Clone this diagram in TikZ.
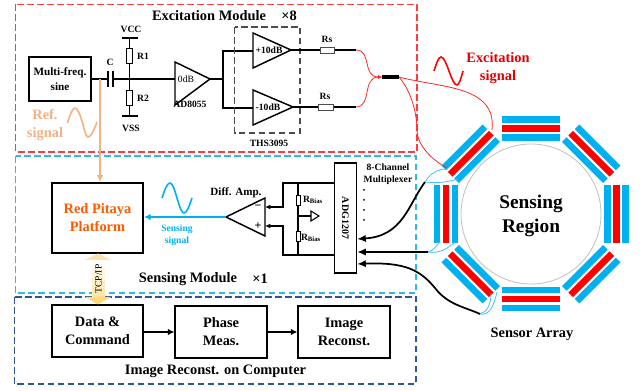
\documentclass[tikz,border=0pt]{standalone}
\usepackage{fontspec}
\setmainfont{Liberation Serif}
\usetikzlibrary{arrows.meta}
\definecolor{exred}{HTML}{FF3B3B}
\definecolor{senseblue}{HTML}{33B7E8}
\definecolor{imgblue}{HTML}{2F5597}
\definecolor{stripblue}{HTML}{00B0F0}
\definecolor{refline}{HTML}{F4B183}
\definecolor{linktop}{HTML}{FBE2B0}
\definecolor{linkbot}{HTML}{FFD97A}
\tikzstyle{modframe} = [draw, line width=0.9pt, dash pattern=on 5pt off 2.5pt]
\tikzstyle{block} = [draw, line width=1.3pt, align=center, inner sep=0pt, font=\bfseries\fontsize{10.8}{13.5}\selectfont]
\tikzstyle{title} = [font=\bfseries\fontsize{10.8}{13.5}\selectfont, align=center]
\tikzstyle{small} = [font=\bfseries\fontsize{7.2}{9}\selectfont, align=center, inner sep=0pt]
\tikzstyle{resistor} = [draw, line width=0.6pt, inner sep=0pt, fill=white]
\tikzstyle{wire} = [draw, line width=1.2pt]
\tikzstyle{thinwire} = [draw, line width=0.8pt]
\tikzstyle{amp} = [draw, line width=1.1pt, fill=white]
\tikzstyle{feed} = [draw=red!85, line width=0.6pt]
\tikzstyle{sense} = [draw=stripblue!75, line width=0.6pt]
\tikzstyle{lead} = [draw, line width=1.3pt, -{Latex[length=6.5pt,width=5.5pt]}]
\begin{document}
\begin{tikzpicture}[x=0.75pt,y=-0.75pt]
\useasboundingbox (0,0) rectangle (644,391);

%Module frames
\draw [modframe, exred] (15.5,4.5) rectangle (417,152);
\draw [modframe, senseblue] (15.5,156) rectangle (416,293);
\draw [modframe, imgblue] (14.5,297) rectangle (416,384);
\node [title] at (209,16) {Excitation Module};
\node [title] at (289,16) {×8};
\node [title] at (188,279) {Sensing Module};
\node [title] at (260,279) {×1};
\node [title] at (215.5,371) {Image Reconst. on Computer};

%Source and bias
\node [block, minimum width=46.5pt, minimum height=33pt, font=\bfseries\fontsize{8.4}{11.5}\selectfont] (sine) at (60,79) {Multi-freq.\\sine};
\coordinate (capa) at (108,79);
\coordinate (capb) at (113,79);
\coordinate (join) at (129,79);
\coordinate (refjoin) at (100,79);
\node [resistor, minimum width=4.5pt, minimum height=11pt] (ra) at (129.5,56) {};
\node [resistor, minimum width=4.5pt, minimum height=11pt] (rb) at (129.5,98) {};
\coordinate (vcc) at (129.5,38);
\coordinate (vss) at (129.5,116);
\draw [wire] (sine.east) -- (capa);
\draw [wire] (capb) -- (175,79);
\draw [wire] (capa |- 0,71) -- (capa |- 0,87);
\draw [wire] (capb |- 0,71) -- (capb |- 0,87);
\draw [wire] (vcc) -- (ra.north);
\draw [wire] (ra.south) -- (rb.north);
\draw [wire] (rb.south) -- (vss);
\draw [wire] (122,38) -- (138,38);
\draw [wire] (122,116) -- (138,116);
\node [small] at (110,62) {C};
\node [small] at (143,56) {R1};
\node [small] at (143,98) {R2};
\node [small] at (131,29) {VCC};
\node [small] at (131,128) {VSS};

%Buffer and driver amplifiers
\coordinate (buftip) at (210,79);
\coordinate (split) at (223,79);
\coordinate (uptip) at (291,50);
\coordinate (lowtip) at (293,107);
\draw [wire] (buftip) -- (split);
\draw [wire] (253,51) -- (223,51) -- (223,108) -- (253,108);
\draw [amp] (175,62) -- (buftip) -- (175,105) -- cycle;
\draw [amp] (253,33) -- (uptip) -- (253,68) -- cycle;
\draw [amp] (253,90) -- (lowtip) -- (253,125) -- cycle;
\draw [draw=black!70, line width=0.9pt, dash pattern=on 5pt off 2.5pt] (234.5,27) rectangle (300,133);
\node [font=\fontsize{7.2}{9}\selectfont, inner sep=0pt] at (186,79.5) {0dB};
\node [small] at (190,104) {AD8055};
\node [small] at (269,50) {+10dB};
\node [small] at (268,107) {-10dB};
\node [small] at (269,143) {THS3095};

%Series resistors and excitation feed
\node [resistor, draw=black!70, minimum width=11pt, minimum height=4.5pt] (rsa) at (327.5,50) {};
\node [resistor, draw=black!70, minimum width=11pt, minimum height=4.5pt] (rsb) at (326,107) {};
\coordinate (outa) at (356,50);
\coordinate (outb) at (356,107);
\coordinate (spl) at (382,77);
\coordinate (spr) at (399,77);
\coordinate (padtop) at (492,130);
\coordinate (padleft) at (447,168);
\draw [wire] (uptip) -- (rsa);
\draw [wire] (rsa) -- (outa);
\draw [wire] (lowtip) -- (rsb);
\draw [wire] (rsb) -- (outb);
\node [small] at (327,39) {Rs};
\node [small] at (325,96) {Rs};

%Sensor array
\foreach \ang in {0,45,...,315}
{
\begin{scope}[shift={(531,214)},rotate=\ang]
\fill [stripblue] (-29,73) rectangle (29,79.5);
\fill [red] (-29,82) rectangle (29,88.5);
\fill [stripblue] (-29,91) rectangle (29,97.5);
\end{scope}
}
\draw [black!25, line width=0.6pt] (531,214) circle (70);
\node [font=\bfseries\fontsize{14.5}{17.5}\selectfont, align=center] at (531,216) {Sensing\\Region};
\node [title] at (532,334) {Sensor Array};

%Feed lines
\draw [feed, -{Latex[length=3pt,width=3pt]}] (outa) .. controls (372,50) and (362,77) .. (spl);
\draw [feed, -{Latex[length=3pt,width=3pt]}] (outb) .. controls (372,107) and (362,77) .. (spl);
\draw [line width=2.6pt] (spl) -- (spr);
\draw [feed] (spr) .. controls (440,88) and (497,85) .. (padtop);
\draw [feed] (spr) .. controls (412,92) and (417,115) .. (417,130) .. controls (417,145) and (432,160) .. (padleft);

%Readout
\node [draw, line width=1pt, minimum width=16.5pt, minimum height=82.5pt, inner sep=0pt] (adg) at (345.5,218) {};
\node [small, rotate=-90, font=\bfseries\fontsize{7.5}{9}\selectfont] at (adg.center) {ADG1207};
\node [small] at (388,174.5) {8-Channel\\Multiplexer};
\foreach \dotpos in {190,200,210,220}
\fill (364,\dotpos) circle (1);

\coordinate (pina) at (adg.east |- 0,239);
\coordinate (pinb) at (adg.east |- 0,252);
\coordinate (pinc) at (adg.east |- 0,264);
\coordinate (porta) at (425,182);
\coordinate (portb) at (428,252);
\coordinate (portc) at (480,314);
\draw [lead] (porta) .. controls (408,205) and (403,236) .. (pina);
\draw [lead] (portb) -- (pinb);
\draw [lead] (portc) .. controls (465,307) and (448,305) .. (435,288) .. controls (420,270) and (405,262) .. (pinc);
\draw [sense] (porta) .. controls (430,174) and (436,169) .. (448,169);
\draw [sense] (porta) .. controls (435,183) and (445,183) .. (458,179);
\draw [sense] (portb) .. controls (433,251) and (436,246) .. (440,242);
\draw [sense] (portb) .. controls (440,254) and (448,248) .. (455,242);
\draw [sense] (portc) .. controls (487,312) and (491,305) .. (491,293);
\draw [sense] (portc) .. controls (490,316) and (494,305) .. (497,292);

%Bias network
\coordinate (minus) at (265,207);
\coordinate (plus) at (265,226);
\coordinate (dtip) at (226,217);
\node [resistor, minimum width=3pt, minimum height=7.5pt] (rbiasa) at (298,200) {};
\node [resistor, minimum width=3pt, minimum height=7.5pt] (rbiasb) at (298,236) {};
\coordinate (biasmid) at (298,216);
\draw [thinwire, {Latex[length=4pt,width=3.5pt]}-] (minus) -- (283,207) -- (283,183) -- (adg.west |- 0,183);
\draw [thinwire, {Latex[length=4pt,width=3.5pt]}-] (plus) -- (283,226) -- (283,255) -- (adg.west |- 0,255);
\draw [thinwire] (rbiasa.north) -- (298,183);
\draw [thinwire] (rbiasa.south) -- (rbiasb.north);
\draw [thinwire] (rbiasb.south) -- (298,255);
\draw [thinwire] (biasmid) -- (311,216);
\draw [thinwire] (311,211) -- (319,216) -- (311,221) -- cycle;
\node [small] at (313,200) {R\textsubscript{Bias}};
\node [small] at (311,238) {R\textsubscript{Bias}};

%Differential amplifier
\draw [amp] (265,198) -- (dtip) -- (265,236) -- cycle;
\node [font=\bfseries\fontsize{9}{9}\selectfont, inner sep=0pt] at (258,207.5) {−};
\node [font=\bfseries\fontsize{9}{9}\selectfont, inner sep=0pt] at (258,226) {+};
\node [title, font=\bfseries\fontsize{8.3}{10}\selectfont] at (236,193) {Diff. Amp.};

%Platform and computer blocks
\node [block, text=orange!70!red, minimum width=68.5pt, minimum height=52pt] (pitaya) at (97.5,218) {Red Pitaya\\Platform};
\node [block, minimum width=68.5pt, minimum height=39pt] (data) at (97.5,331) {Data \&\\Command};
\node [block, minimum width=68.5pt, minimum height=39pt] (phase) at (221,332) {Phase\\Meas.};
\node [block, minimum width=68.5pt, minimum height=39pt] (recon) at (344,332) {Image\\Reconst.};
\draw [thinwire, line width=1pt, -{Latex[length=5pt,width=5pt]}] (data.east |- 0,332) -- (phase.west);
\draw [thinwire, line width=1pt, -{Latex[length=5pt,width=5pt]}] (phase.east) -- (recon.west);

%Signal paths
\draw [stripblue, line width=1.2pt, -{Latex[length=5pt,width=5pt]}] (dtip) -- (pitaya.east |- dtip);
\draw [refline, line width=1.1pt, -{Latex[length=5.5pt,width=5pt]}] (refjoin) -- (pitaya.north -| refjoin);

%TCP link
\path [top color=white, bottom color=linkbot!70] (92.5,260) rectangle (104.5,297);
\fill [linktop] (98,253.5) -- (111,260) -- (85,260) -- cycle;
\fill [linkbot] (98,304.5) -- (85,297) -- (111,297) -- cycle;
\node [rotate=90, font=\fontsize{7.2}{9}\selectfont, inner sep=0pt] at (98.5,279) {TCP/IP};

%Waves and signal labels
\draw [refline, line width=1.2pt] (67.5,123) sin (75,108) cos (82.5,122.5) sin (88,137) cos (97,122);
\draw [red, line width=1.2pt] (434,71) sin (441,57) cos (449,71) sin (457,85) cos (463,71);
\draw [stripblue, line width=1.2pt] (162,198) sin (170,183) cos (177,198) sin (184,213) cos (192,198);
\node [title, text=refline] at (45,125) {Ref.\\signal};
\node [title, text=red!90!black] at (498,68.5) {Excitation\\signal};
\node [small, text=stripblue] at (177,235.5) {Sensing\\signal};

\end{tikzpicture}
\end{document}
